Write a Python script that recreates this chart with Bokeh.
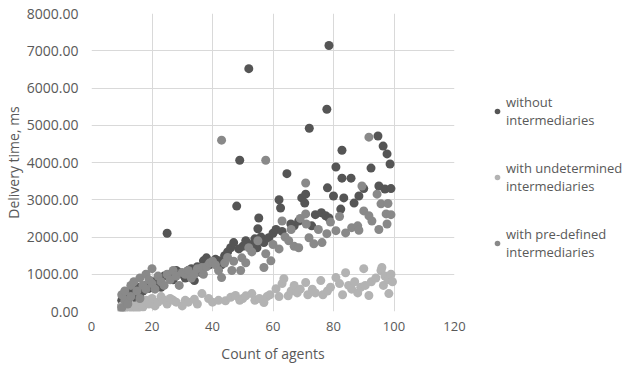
from bokeh.plotting import figure
from bokeh.models import FixedTicker, PrintfTickFormatter, Legend, LegendItem, Range1d
from bokeh.embed import file_html
from bokeh.resources import INLINE

# ---- data ----
without_x = [10, 10, 11, 12, 13, 14, 15, 15, 16, 17, 18, 19, 20, 21, 22, 23, 24, 25, 26, 27,
             28, 29, 30, 31, 32, 33, 34, 35, 36, 37, 38, 39, 40, 41, 42, 43, 44, 45, 46, 47,
             48, 48.7, 49, 50, 51, 52, 53, 54, 54.7, 55, 55.3, 56, 57, 58.6, 60, 61, 62, 62.5,
             63, 64.6, 65.9, 67, 68.5, 69.5, 70.5, 70.8, 72, 72.8, 74, 76, 77.4, 77.8, 78.5,
             78.5, 78, 80, 80.8, 82.4, 82.8, 82.8, 83.4, 85.8, 86.8, 88.4, 90, 92.4, 94.7, 95,
             96.4, 97.7, 97, 98.7, 99]
without_y = [150, 300, 420, 250, 500, 480, 300, 650, 380, 550, 700, 620, 800, 750, 900, 650, 950,
             2100, 1000, 850, 1100, 1050, 1000, 900, 1100, 1150, 830, 1200, 1050, 1360, 1440, 1250,
             1300, 1400, 1360, 1250, 1500, 1600, 1710, 1850, 2830, 1680, 4060, 1750, 1900, 6520,
             1800, 1950, 1710, 2220, 2510, 2000, 1850, 1980, 2100, 2200, 3000, 2780, 2150, 3700,
             2350, 2300, 2430, 3050, 2910, 3150, 4920, 2300, 2600, 2650, 2570, 5430, 7140, 2510,
             3320, 3100, 3880, 2750, 4330, 3580, 3050, 3580, 2910, 3100, 3300, 3850, 4710, 3370,
             4440, 4230, 3290, 3960, 3300]

undet_x = [10, 10, 11, 12, 13, 14, 15, 16, 17, 18, 19, 20, 21, 22, 23, 24, 25, 26, 27, 28, 30,
           31, 32, 34, 35, 36.5, 38.7, 40, 42, 44.3, 46, 47.6, 49, 50, 51, 53, 54, 55.5, 57, 58,
           59, 61, 62, 63, 63.6, 65, 66, 67, 68, 69, 70.8, 71.5, 73, 74, 75.8, 76.5, 78, 79, 80.8,
           82, 83, 84, 85, 86, 87, 88, 89, 90, 90.5, 91.7, 92.5, 94, 95.7, 96, 96.5, 97, 98, 98.3,
           99, 99.5]
undet_y = [50, 150, 80, 200, 100, 150, 60, 250, 120, 300, 200, 350, 150, 250, 400, 300, 200, 350,
           300, 250, 150, 300, 250, 330, 200, 480, 350, 250, 300, 290, 380, 430, 300, 350, 420,
           480, 300, 350, 240, 400, 450, 610, 400, 750, 880, 420, 550, 700, 500, 600, 780, 450,
           600, 500, 830, 450, 550, 650, 910, 750, 450, 1040, 700, 600, 800, 500, 650, 1150, 700,
           430, 800, 900, 1100, 1180, 700, 950, 850, 480, 1000, 800]

predef_x = [10, 10, 11, 11, 12, 13, 13, 14, 15, 16, 16, 17, 18, 18, 19, 20, 20, 21, 22, 23, 24,
            25, 26, 27, 28, 29, 30, 31, 32, 33, 34, 35, 36.5, 37, 38, 39, 40, 41, 42, 43, 43, 44,
            45, 46.4, 47, 49.3, 49.7, 51, 52, 53, 55, 57, 57.6, 57.6, 59.3, 60, 62, 63, 64, 65.2,
            66, 67, 68.5, 69, 70.8, 70.8, 71, 71.9, 73.5, 75, 76.2, 77.8, 79, 80.8, 82, 84, 86, 88,
            88.4, 89.4, 90, 91.7, 91.7, 92.7, 94.4, 95, 95.7, 97.4, 97.7, 98, 99]
predef_y = [100, 450, 300, 550, 200, 700, 400, 800, 550, 350, 900, 700, 600, 1000, 850, 750, 1150,
            600, 950, 800, 700, 1000, 850, 1100, 950, 700, 1050, 1000, 1100, 900, 1000, 1150, 1180,
            1000, 1200, 1300, 1350, 1250, 1100, 910, 4600, 1300, 1450, 1100, 1350, 1100, 1440, 1310,
            1710, 1600, 1900, 1180, 1550, 4060, 1360, 1800, 1680, 2430, 2000, 1900, 2200, 1750, 1710,
            2500, 3450, 2620, 2350, 1980, 1820, 2200, 1850, 2090, 2400, 2170, 2550, 2110, 2250, 2300,
            2180, 3370, 2700, 2570, 4680, 2430, 3150, 2200, 2890, 2620, 2350, 2900, 2600]

x_ticks = [0, 20, 40, 60, 80, 100, 120]
y_ticks = [0, 1000, 2000, 3000, 4000, 5000, 6000, 7000, 8000]
series_names = ["without\nintermediaries", "with undetermined\nintermediaries",
                "with pre-defined\nintermediaries"]

TXT = "#595959"
FONT = "Open Sans"

p = figure(frame_width=363, frame_height=298, output_backend="svg", toolbar_location=None,
           x_range=Range1d(0, 120), y_range=Range1d(0, 8000),
           min_border_left=88, min_border_right=163, min_border_top=13, min_border_bottom=44)
p.outline_line_color = None
p.background_fill_color = "white"

r1 = p.scatter(without_x, without_y, marker="circle", size=9, fill_color="#555555",
               line_color=None)
r2 = p.scatter(undet_x, undet_y, marker="circle", size=9, fill_color="#b3b3b3",
               line_color=None)
r3 = p.scatter(predef_x, predef_y, marker="circle", size=9, fill_color="#898989",
               line_color=None)

p.xaxis.ticker = FixedTicker(ticks=x_ticks)
p.yaxis.ticker = FixedTicker(ticks=y_ticks)
p.yaxis.formatter = PrintfTickFormatter(format="%.2f")
for ax in (p.xaxis[0], p.yaxis[0]):
    ax.axis_line_color = None
    ax.major_tick_line_color = None
    ax.minor_tick_line_color = None
    ax.major_tick_out = 0
    ax.major_tick_in = 0
    ax.major_label_text_font = FONT
    ax.major_label_text_color = TXT
    ax.axis_label_text_font = FONT
    ax.axis_label_text_font_size = "14px"
    ax.axis_label_text_color = TXT
    ax.axis_label_text_font_style = "normal"
p.yaxis.major_label_text_font_size = "14px"
p.xaxis.major_label_text_font_size = "13px"
p.xaxis.axis_label = "Count of agents"
p.yaxis.axis_label = "Delivery time, ms"
p.xaxis.major_label_standoff = 10
p.yaxis.major_label_standoff = 13
p.xaxis.axis_label_standoff = 10
p.yaxis.axis_label_standoff = 1

p.xgrid.grid_line_color = "#d9d9d9"
p.ygrid.grid_line_color = "#d9d9d9"

legend = Legend(items=[LegendItem(label=series_names[0], renderers=[r1]),
                       LegendItem(label=series_names[1], renderers=[r2]),
                       LegendItem(label=series_names[2], renderers=[r3])],
                location=(36, 50))
legend.border_line_color = None
legend.background_fill_alpha = 0
legend.label_text_font = FONT
legend.label_text_font_size = "13px"
legend.label_text_color = TXT
legend.glyph_width = 14
legend.glyph_height = 14
legend.label_standoff = 2
legend.spacing = 30
legend.padding = 0
legend.margin = 0
p.add_layout(legend, "right")

open("out.html", "w").write(file_html(p, INLINE))
